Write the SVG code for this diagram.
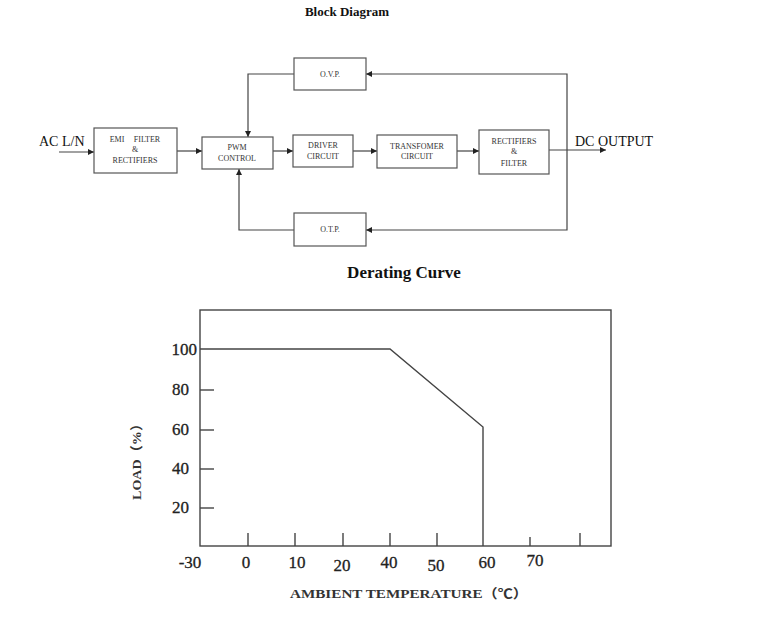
<svg xmlns="http://www.w3.org/2000/svg" width="765" height="627" viewBox="0 0 765 627">
<style>
.box{fill:#fff;stroke:#555;stroke-width:1.2}
.bt{font-family:"Liberation Serif",serif;font-size:8px;fill:#333;text-anchor:middle}
.big{font-family:"Liberation Serif",serif;font-size:14px;fill:#111}
.title{font-family:"Liberation Serif",serif;font-weight:bold;fill:#111;text-anchor:middle}
.ln{fill:none;stroke:#444;stroke-width:1.2}
.pl{fill:none;stroke:#444;stroke-width:1.4}
.ax{font-family:"Liberation Serif",serif;font-size:17px;fill:#222;stroke:#222;stroke-width:0.3}
.axl{font-family:"Liberation Serif","Noto Sans CJK SC",serif;font-size:13px;font-weight:bold;fill:#333}
</style>
<defs>
<marker id="arr" viewBox="0 0 10 10" refX="10" refY="5" markerWidth="7" markerHeight="6" orient="auto" markerUnits="userSpaceOnUse">
<path d="M0,0 L10,5 L0,10 z" fill="#222"/>
</marker>
</defs>
<rect width="765" height="627" fill="#fff"/>
<text class="title" x="347" y="16" font-size="13">Block Diagram</text>

<g id="connectors">
<line class="ln" x1="59" y1="152" x2="94" y2="152" marker-end="url(#arr)"/>
<line class="ln" x1="177" y1="151" x2="202" y2="151" marker-end="url(#arr)"/>
<line class="ln" x1="273" y1="151" x2="293" y2="151" marker-end="url(#arr)"/>
<line class="ln" x1="353" y1="151" x2="377" y2="151" marker-end="url(#arr)"/>
<line class="ln" x1="457" y1="151" x2="479" y2="151" marker-end="url(#arr)"/>
<line class="ln" x1="549" y1="150" x2="606" y2="150" marker-end="url(#arr)"/>
<polyline class="ln" points="567,150 567,74 366,74" marker-end="url(#arr)"/>
<polyline class="ln" points="567,150 567,230 366,230" marker-end="url(#arr)"/>
<polyline class="ln" points="294,74 248,74 248,137" marker-end="url(#arr)"/>
<polyline class="ln" points="294,230 239,230 239,169" marker-end="url(#arr)"/>
</g>

<g id="ac-in"><text class="big" x="39" y="146">AC L/N</text></g>
<g id="dc-out"><text class="big" x="575" y="146">DC OUTPUT</text></g>

<g id="emi">
<rect class="box" x="94" y="128" width="83" height="45"/>
<text class="bt" x="117" y="142">EMI</text>
<text class="bt" x="147" y="142">FILTER</text>
<text class="bt" x="135" y="152">&amp;</text>
<text class="bt" x="135" y="163">RECTIFIERS</text>
</g>
<g id="pwm">
<rect class="box" x="202" y="137" width="71" height="32"/>
<text class="bt" x="237" y="150">PWM</text>
<text class="bt" x="237" y="161">CONTROL</text>
</g>
<g id="driver">
<rect class="box" x="293" y="135" width="60" height="32"/>
<text class="bt" x="323" y="148">DRIVER</text>
<text class="bt" x="323" y="159">CIRCUIT</text>
</g>
<g id="transformer">
<rect class="box" x="377" y="135" width="80" height="33"/>
<text class="bt" x="417" y="149">TRANSFOMER</text>
<text class="bt" x="417" y="159">CIRCUIT</text>
</g>
<g id="rectfilter">
<rect class="box" x="479" y="130" width="70" height="44"/>
<text class="bt" x="514" y="144">RECTIFIERS</text>
<text class="bt" x="514" y="154">&amp;</text>
<text class="bt" x="514" y="166">FILTER</text>
</g>
<g id="ovp">
<rect class="box" x="294" y="58" width="72" height="32"/>
<text class="bt" x="330" y="77">O.V.P.</text>
</g>
<g id="otp">
<rect class="box" x="294" y="213" width="72" height="33"/>
<text class="bt" x="330" y="232">O.T.P.</text>
</g>

<g id="derating">
<text class="title" x="404" y="278" font-size="17">Derating Curve</text>
<rect class="pl" x="200" y="310" width="411" height="236"/>
<polyline class="pl" points="200,349 390,349 483,427 483,546"/>
<g class="pl">
<line x1="200" y1="390" x2="214" y2="390"/>
<line x1="200" y1="430" x2="214" y2="430"/>
<line x1="200" y1="469" x2="214" y2="469"/>
<line x1="200" y1="508" x2="214" y2="508"/>
<line x1="248" y1="533" x2="248" y2="546"/>
<line x1="295" y1="533" x2="295" y2="546"/>
<line x1="343" y1="533" x2="343" y2="546"/>
<line x1="390" y1="533" x2="390" y2="546"/>
<line x1="437" y1="533" x2="437" y2="546"/>
<line x1="530" y1="537" x2="530" y2="546"/>
<line x1="580" y1="533" x2="580" y2="546"/>
</g>
<g class="ax" text-anchor="end">
<text x="197" y="355">100</text>
<text x="189" y="395">80</text>
<text x="189" y="435">60</text>
<text x="189" y="474">40</text>
<text x="189" y="513">20</text>
</g>
<g class="ax" text-anchor="middle">
<text x="190" y="568">-30</text>
<text x="246" y="568">0</text>
<text x="297" y="568">10</text>
<text x="342" y="571">20</text>
<text x="389" y="568">40</text>
<text x="436" y="571">50</text>
<text x="487" y="568">60</text>
<text x="535" y="566">70</text>
</g>
<text class="axl" x="290" y="598" textLength="238" lengthAdjust="spacingAndGlyphs">AMBIENT TEMPERATURE（℃）</text>
<text class="axl" transform="translate(141,500) rotate(-90)" x="0" y="0" textLength="83" lengthAdjust="spacingAndGlyphs">LOAD（%）</text>
</g>
</svg>
